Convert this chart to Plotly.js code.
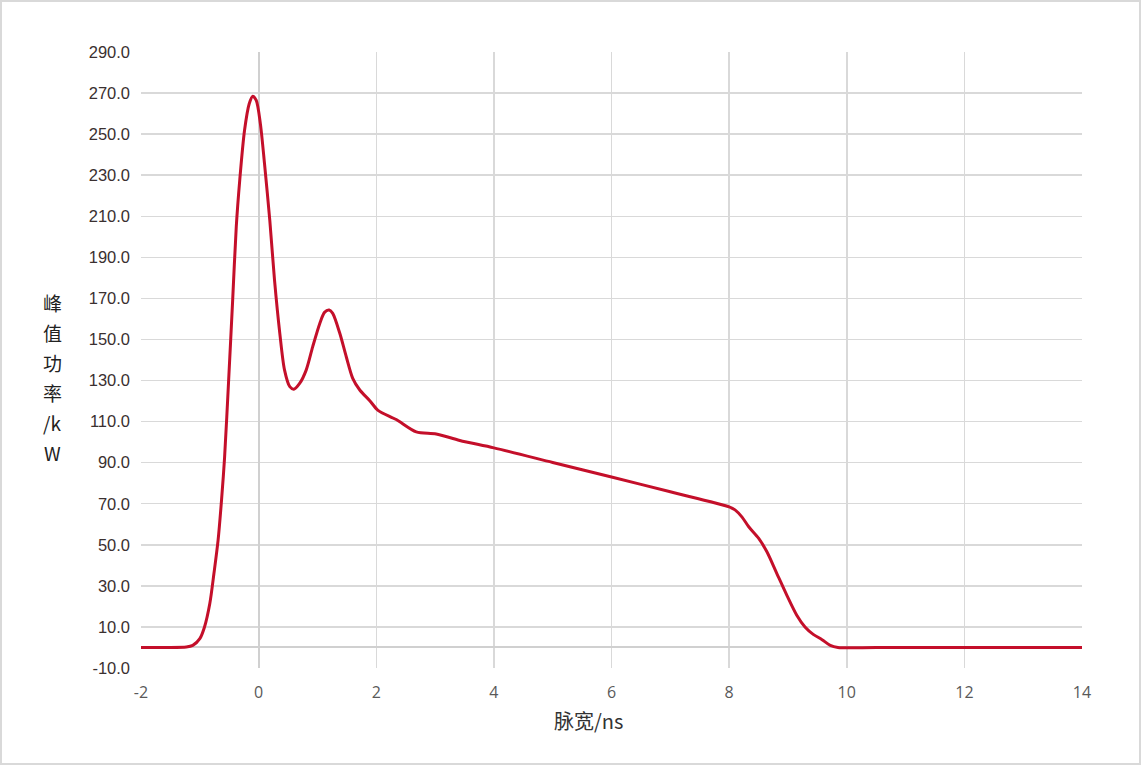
<!DOCTYPE html>
<html>
<head>
<meta charset="utf-8">
<script src="https://cdn.plot.ly/plotly-3.0.1.min.js"></script>
<style>
html,body{margin:0;padding:0;background:#fff;}
#wrap{position:relative;width:1141px;height:765px;}
#chart{width:1141px;height:765px;}
#frame{position:absolute;left:0;top:0;width:1141px;height:765px;box-sizing:border-box;border:2px solid #d9d9d9;pointer-events:none;}
</style>
</head>
<body>
<div id="wrap"><div id="chart"></div><div id="frame"></div></div>
<script>
// pulse width (ns)
const pulseWidth = [-2, -1.6, -1.23, -1.12, -1.00, -0.92, -0.83, -0.76, -0.69, -0.63, -0.58, -0.51,
  -0.44, -0.38, -0.32, -0.24, -0.16, -0.10, -0.04, 0.03, 0.10, 0.19, 0.27, 0.36, 0.44, 0.53, 0.60, 0.70,
  0.81, 0.92, 1.04, 1.12, 1.20, 1.26, 1.38, 1.49, 1.60, 1.72, 1.89, 2.03, 2.34, 2.68, 3.02, 3.42,
  4.0, 5.0, 6.0, 7.0, 8.0, 8.10, 8.22, 8.33, 8.50, 8.64, 8.81, 8.98, 9.15, 9.29, 9.43, 9.58, 9.72, 9.85, 10.5, 12, 14];
// peak power (kW)
const peakPower = [0, 0, 0.2, 1, 4.3, 10, 21.4, 36, 52, 72, 92, 130,
  170, 205, 228, 251.8, 264.8, 268.5, 266.4, 255, 235.6, 208, 179, 153, 135.2, 127, 125.8, 128.7,
  135.2, 146.5, 157.8, 163.2, 164.3, 162.7, 153, 141.6, 131.1, 125.4, 120.2, 115.5, 111, 105, 104, 100.8,
  97.2, 90.1, 83.0, 75.8, 68.5, 67, 63.5, 58.9, 53.2, 46.7, 36.1, 25.5, 15.7, 10, 6.4, 3.8, 1.0, 0, 0, 0, 0];
const xTickVals = [-2, 0, 2, 4, 6, 8, 10, 12, 14];
const yTickVals = [-10, 10, 30, 50, 70, 90, 110, 130, 150, 170, 190, 210, 230, 250, 270, 290];
const xTitle = '脉宽/ns';
const yTitleLines = ['峰', '值', '功', '率', '/k', 'W'];

const trace = {
  x: pulseWidth, y: peakPower, type: 'scatter', mode: 'lines',
  line: {color: '#C40F2A', width: 3, shape: 'spline', smoothing: 0.8},
  hoverinfo: 'skip'
};
const annotations = [
  {text: xTitle, xref: 'paper', yref: 'paper', x: (588 - 141) / 941, y: -(720 - 668) / 616,
   xanchor: 'center', yanchor: 'middle', showarrow: false,
   font: {family: 'Noto Sans CJK SC, sans-serif', size: 20, color: '#333'}}
];
yTitleLines.forEach((t, i) => {
  annotations.push({text: t, xref: 'paper', yref: 'paper', x: -(141 - 52) / 941, y: (668 - (302 + i * 30)) / 616,
    xanchor: 'center', yanchor: 'middle', showarrow: false,
    font: {family: 'Noto Sans CJK SC, sans-serif', size: 19, color: '#222'}});
});
const layout = {
  width: 1141, height: 765,
  margin: {l: 141, r: 59, t: 52, b: 97},
  paper_bgcolor: '#fff', plot_bgcolor: '#fff',
  showlegend: false,
  font: {family: 'Liberation Sans, Arial, sans-serif', color: '#404040'},
  xaxis: {
    range: [-2, 14], tickmode: 'array', tickvals: xTickVals, ticktext: xTickVals.map(String),
    showgrid: true, gridcolor: '#d9d9d9', gridwidth: 1.5,
    zeroline: true, zerolinecolor: '#d0d0d0', zerolinewidth: 2,
    showline: false, ticks: '', ticklabelstandoff: 13,
    tickfont: {family: 'Open Sans, Noto Sans, sans-serif', size: 16, color: '#595959'}
  },
  yaxis: {
    range: [-10, 290], tickmode: 'array', tickvals: yTickVals, ticktext: yTickVals.map(v => v.toFixed(1)),
    showgrid: true, gridcolor: '#d9d9d9', gridwidth: 1.5,
    zeroline: true, zerolinecolor: '#d0d0d0', zerolinewidth: 2,
    showline: false, ticks: '', ticklabelstandoff: 10,
    tickfont: {family: 'Liberation Sans, Arial, sans-serif', size: 16.5, color: '#3a3030'}
  },
  annotations: annotations
};
Plotly.newPlot('chart', [trace], layout, {displayModeBar: false, staticPlot: true});
</script>
</body>
</html>
